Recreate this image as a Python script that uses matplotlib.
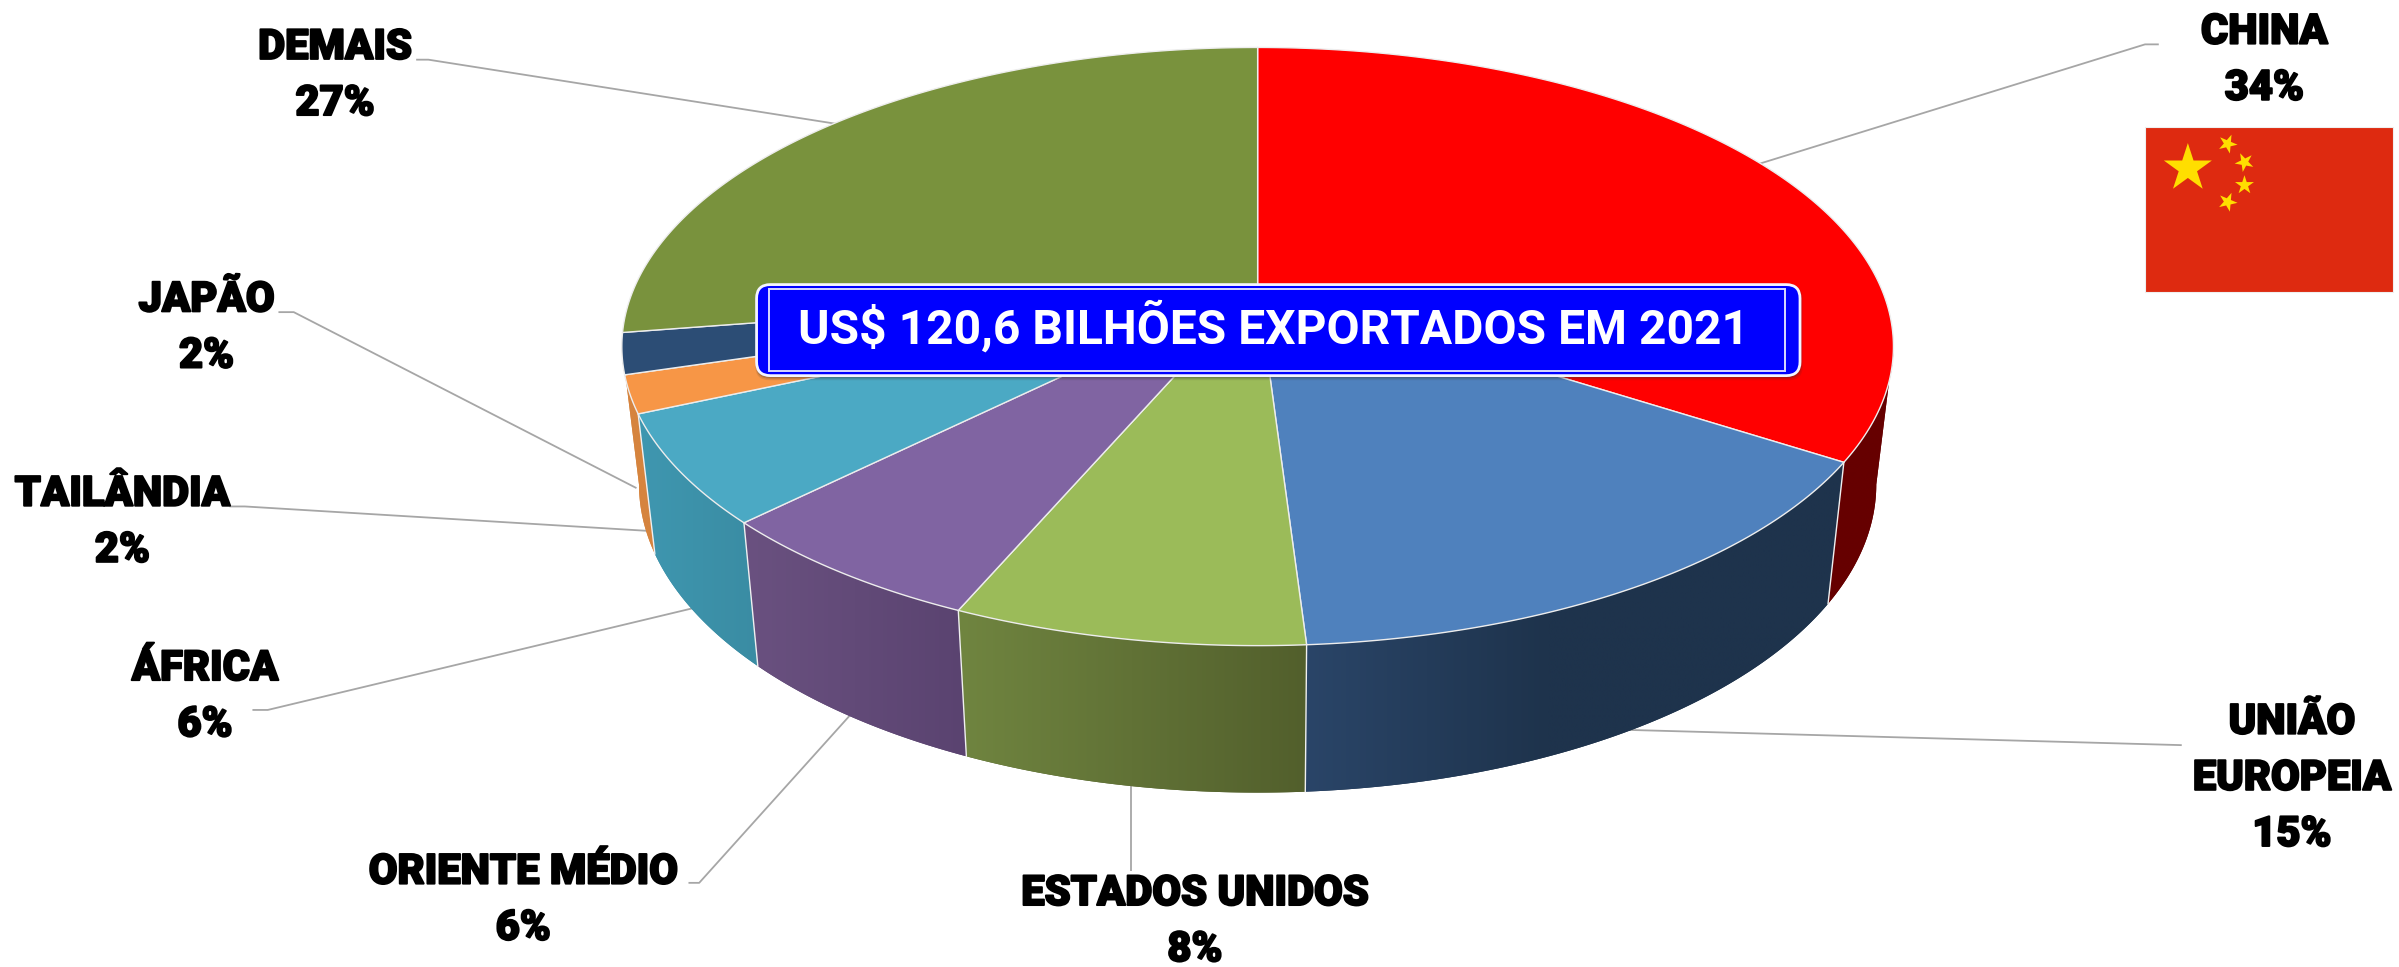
import numpy as np
import matplotlib
matplotlib.use("Agg")
import matplotlib.pyplot as plt
from matplotlib.patches import Polygon, FancyBboxPatch, Rectangle
from matplotlib.colors import to_rgb
import matplotlib.patheffects as pe

# ---------- data ----------
categories = ["CHINA", "UNIÃO\nEUROPEIA", "ESTADOS UNIDOS", "ORIENTE MÉDIO", "ÁFRICA", "TAILÂNDIA", "JAPÃO", "DEMAIS"]
shares = [34.2, 14.8, 7.4, 6.1, 5.8, 2.0, 2.2, 27.5]
percent_labels = ["34%", "15%", "8%", "6%", "6%", "2%", "2%", "27%"]
top_colors = ["#FF0000", "#4F81BD", "#9BBB59", "#8064A2", "#4BA9C4", "#F79646", "#2C4D75", "#79923D"]
side_left = ["#660000", "#2A4568", "#708540", "#6A5180", "#3F97B0", "#D6843E"]
side_right = ["#660000", "#1E334C", "#525F2C", "#5A4370", "#3A8CA3", "#D6843E"]
side_reach = [1.0, 0.45, 1.0, 1.0, 1.0, 1.0]
title = "US$ 120,6 BILHÕES EXPORTADOS EM 2021"

# label centres and leader paths, in the 1568x632 layout
label_xy = [(1480, 21), (1498, 472), (781, 584), (342, 570), (134, 437), (80, 323), (135, 196), (219, 31)]
leaders = [
    [(1150, 107), (1402, 29), (1411, 29)],
    [(1063, 477), (1426, 487)],
    [(739, 514), (739, 569)],
    [(556, 467), (457, 577), (450, 577)],
    [(455, 397), (175, 464), (165, 464)],
    [(424, 347), (160, 331), (150, 331)],
    [(416, 319), (192, 204), (182, 204)],
    [(547, 81), (280, 39), (272, 39)],
]

plt.rcParams["font.family"] = ["Roboto", "DejaVu Sans"]
fig = plt.figure(figsize=(23.99, 9.67), dpi=100, facecolor="white")
ax = fig.add_axes([0, 0, 1, 1])

# ---------- perspective projection of the pie ----------
CX, CY, A, B, K = 822.0, 187.0, 407.0, 187.5, 0.202


def top_rim(theta):
    X, Y = np.sin(theta), np.cos(theta)
    w = 1 + K * Y
    return CX + A * X / w, CY - B * Y / w


def bottom_rim(theta):
    x, y = top_rim(theta)
    return CX + 0.973 * (x - CX), CY + 89 + 1.03 * (y - CY)


edges = np.radians(np.concatenate([[0], np.cumsum(shares)]) * 3.6)
silhouette = np.arccos(-K)  # angle of the widest point of the projected rim

for path in leaders:
    xs, ys = zip(*path)
    ax.plot(xs, ys, color="#A6A6A6", lw=1.3, zorder=1, solid_capstyle="butt")

# side walls: only the front part, from silhouette to silhouette
for i in range(len(side_left)):
    t0 = silhouette if i == 0 else edges[i]
    t1 = 2 * np.pi - silhouette if i == 5 else edges[i + 1]
    th = np.linspace(t0, t1, 200)
    xt, yt = top_rim(th)
    xb, yb = bottom_rim(th)
    pts = np.column_stack([np.r_[xt, xb[::-1]], np.r_[yt, yb[::-1]]])
    poly = Polygon(pts, closed=True, facecolor=side_right[i], edgecolor="none", zorder=2)
    ax.add_patch(poly)
    x0, x1 = pts[:, 0].min(), pts[:, 0].max()
    y0, y1 = pts[:, 1].min(), pts[:, 1].max()
    f = np.clip(np.linspace(0, 1, 256) / side_reach[i], 0, 1)[:, None]
    c0, c1 = np.array(to_rgb(side_left[i])), np.array(to_rgb(side_right[i]))
    grad = (c0 + (c1 - c0) * f)[None, :, :]
    im = ax.imshow(grad, extent=(x0, x1, y1, y0), aspect="auto", zorder=2.1, interpolation="bilinear")
    im.set_clip_path(poly)

# seams between walls on the front
for i in range(1, 6):
    x0, y0 = top_rim(edges[i])
    x1, y1 = bottom_rim(edges[i])
    ax.plot([x0, x1], [y0, y1], color="#F0F0F0", lw=1.0, zorder=3)

# top faces
for i in range(len(shares)):
    th = np.linspace(edges[i], edges[i + 1], 200)
    xt, yt = top_rim(th)
    pts = np.column_stack([np.r_[CX, xt], np.r_[CY, yt]])
    ax.add_patch(Polygon(pts, closed=True, facecolor=top_colors[i], edgecolor="#EDEDED", lw=1.0, zorder=4, joinstyle="round"))

# ---------- title box ----------
for grow, alpha in [(2.5, 0.12), (1.5, 0.2), (0.7, 0.3)]:
    ax.add_patch(FancyBboxPatch((494.5 - grow * 0.3, 186.5), 682 + grow, 59.5 + grow,
                                boxstyle="round,pad=0,rounding_size=9",
                                facecolor="#303030", alpha=alpha, edgecolor="none", zorder=5))
ax.add_patch(FancyBboxPatch((494.5, 186), 682, 59.5, boxstyle="round,pad=0,rounding_size=9",
                            facecolor="#0000FF", edgecolor="#F4F4FF", lw=2.0, zorder=6))
ax.add_patch(Rectangle((502.5, 189), 664.5, 53.3, facecolor="#0000FF", edgecolor="#D8D8FF", lw=1.4, zorder=7))
ax.text(832.5, 214, title, color="white", fontsize=34.6, fontweight="bold", ha="center", va="center", zorder=8)

# ---------- labels ----------
for (lx, ly), name, pct in zip(label_xy, categories, percent_labels):
    for n, line in enumerate(name.split("\n") + [pct]):
        ax.text(lx, ly + n * 36.7, line, color="black", fontsize=30, fontweight=900, ha="center", va="center",
                zorder=9, path_effects=[pe.withStroke(linewidth=1.4, foreground="black")])


# ---------- flag ----------
def star(cx, cy, r, rot):
    ang = np.radians(rot) + np.arange(10) * np.pi / 5
    rad = np.where(np.arange(10) % 2 == 0, r, r * 0.382)
    return np.column_stack([cx + rad * np.sin(ang), cy - rad * np.cos(ang)])


ax.add_patch(Rectangle((1402, 83), 162, 108, facecolor="#DE2A10", edgecolor="#EFEFEF", lw=0.8, zorder=5))
ax.add_patch(Polygon(star(1430, 110, 16.5, 0), facecolor="#FFDE00", edgecolor="none", zorder=6))
for sx, sy, rot in [(1456, 94, 23), (1467, 106, 46), (1467, 121, 0), (1456, 132, 23)]:
    ax.add_patch(Polygon(star(sx, sy, 6.5, rot), facecolor="#FFDE00", edgecolor="none", zorder=6))

ax.set_xlim(0, 1568)
ax.set_ylim(632, 0)
ax.set_aspect("auto")
ax.axis("off")
fig.savefig("out.png", dpi=100, facecolor="white")
